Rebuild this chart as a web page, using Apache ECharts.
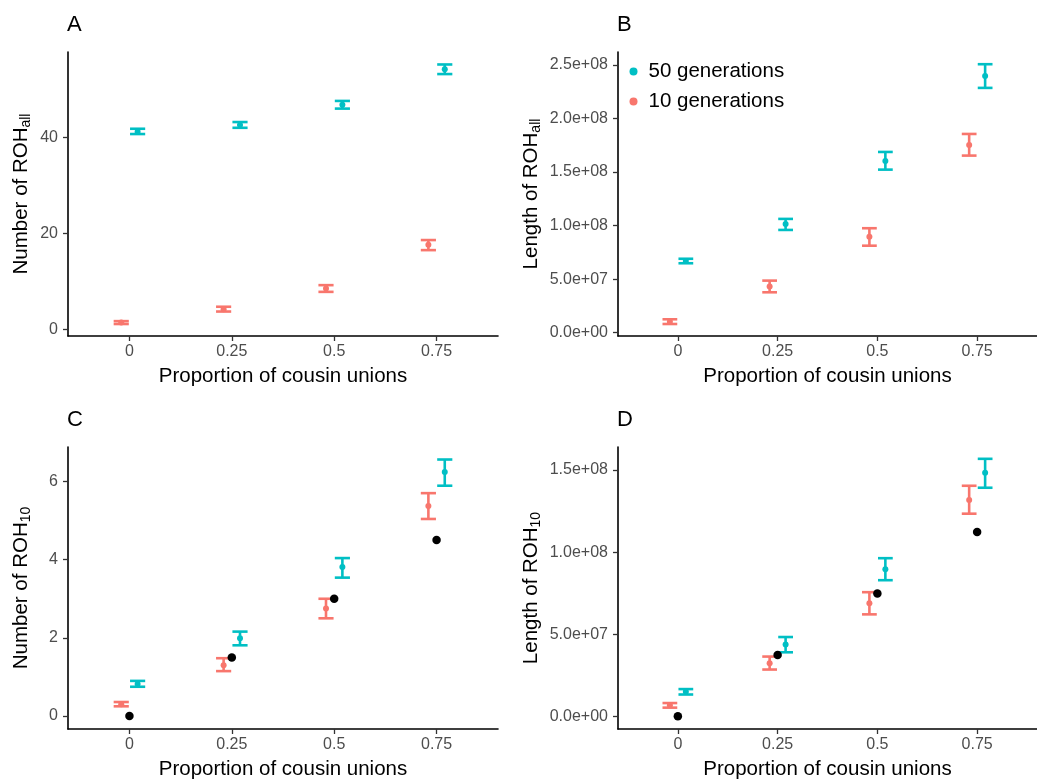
<!DOCTYPE html>
<html>
<head>
<meta charset="utf-8">
<script src="https://cdn.jsdelivr.net/npm/echarts@6/dist/echarts.min.js"></script>
<style>
html,body{margin:0;padding:0;background:#fff;}
#main{width:1037px;height:781px;}
</style>
</head>
<body>
<div id="main"></div>
<script>
// ---------- data ----------
const props = [0, 0.25, 0.5, 0.75];
const xTicks = [0, 0.25, 0.5, 0.75];
const xTickLabels = ['0', '0.25', '0.5', '0.75'];

// Panel A: number of ROH_all
const A10_mean = [1.4, 4.2, 8.5, 17.6];
const A10_lo   = [1.1, 3.7, 7.8, 16.5];
const A10_hi   = [1.7, 4.7, 9.2, 18.6];
const A50_mean = [41.2, 42.6, 46.8, 54.2];
const A50_lo   = [40.7, 42.0, 46.0, 53.2];
const A50_hi   = [41.8, 43.2, 47.6, 55.2];
const A_yTicks = [0, 20, 40];

// Panel B: length of ROH_all
const B10_mean = [1.03e7, 4.30e7, 8.96e7, 1.753e8];
const B10_lo   = [0.81e7, 3.77e7, 8.12e7, 1.653e8];
const B10_hi   = [1.25e7, 4.86e7, 9.75e7, 1.855e8];
const B50_mean = [6.69e7, 1.015e8, 1.603e8, 2.397e8];
const B50_lo   = [6.48e7, 0.959e8, 1.522e8, 2.285e8];
const B50_hi   = [6.90e7, 1.062e8, 1.687e8, 2.506e8];
const B_yTicks = [0, 5e7, 1e8, 1.5e8, 2e8, 2.5e8];

// Panel C: number of ROH_10
const C10_mean = [0.30, 1.30, 2.75, 5.37];
const C10_lo   = [0.25, 1.15, 2.50, 5.04];
const C10_hi   = [0.36, 1.48, 3.00, 5.70];
const C50_mean = [0.82, 1.99, 3.81, 6.24];
const C50_lo   = [0.75, 1.81, 3.54, 5.89];
const C50_hi   = [0.90, 2.16, 4.04, 6.56];
const C_obs    = [0, 1.5, 3.0, 4.5];
const C_yTicks = [0, 2, 4, 6];

// Panel D: length of ROH_10
const D10_mean = [6.7e6, 3.24e7, 6.88e7, 1.317e8];
const D10_lo   = [5.3e6, 2.85e7, 6.21e7, 1.234e8];
const D10_hi   = [8.1e6, 3.64e7, 7.56e7, 1.404e8];
const D50_mean = [1.50e7, 4.37e7, 8.96e7, 1.483e8];
const D50_lo   = [1.33e7, 3.90e7, 8.29e7, 1.392e8];
const D50_hi   = [1.66e7, 4.83e7, 9.63e7, 1.568e8];
const D_obs    = [0, 3.74e7, 7.48e7, 1.123e8];
const D_yTicks = [0, 5e7, 1e8, 1.5e8];

const seriesNames = ['10 generations', '50 generations'];
const obsName = 'observed';

// ---------- styling ----------
const RED = '#F8766D', CYAN = '#00BFC4';
const DODGE = 0.02;
const CAP = 0.037;
const FONT = '"Liberation Sans", Arial, Helvetica, sans-serif';

function sci(v) {
  if (v === 0) return '0.0e+00';
  const s = v.toExponential(1);
  const parts = s.split('e');
  const sign = parts[1][0];
  const d = parts[1].slice(1).padStart(2, '0');
  return parts[0] + 'e' + sign + d;
}

const grids = [
  {left: 68, top: 52, width: 430, height: 284},
  {left: 618, top: 52, width: 430, height: 284},
  {left: 68, top: 447, width: 430, height: 283},
  {left: 618, top: 447, width: 430, height: 283}
];

function xAxis(i) {
  return {
    type: 'value', gridIndex: i, min: -0.15, max: 0.9,
    name: 'Proportion of cousin unions', nameLocation: 'middle', nameGap: 30,
    nameTextStyle: {fontFamily: FONT, fontSize: 20.5, color: '#000'},
    axisLine: {show: true, onZero: false, lineStyle: {color: '#000', width: 1.6}},
    axisTick: {show: true, customValues: xTicks, length: 5, lineStyle: {color: '#333', width: 1.3}},
    axisLabel: {show: true, customValues: xTicks, margin: 8, fontFamily: FONT, fontSize: 16, color: '#4d4d4d',
      formatter: v => xTickLabels[xTicks.indexOf(v)] ?? String(v)},
    splitLine: {show: false}
  };
}

function yAxis(i, min, max, ticks, fmt, nameMain, nameSub, gap) {
  return {
    type: 'value', gridIndex: i, min: min, max: max,
    name: '{m|' + nameMain + '}{s|' + nameSub + '}', nameLocation: 'middle', nameGap: gap, nameRotate: 90,
    nameTextStyle: {fontFamily: FONT, color: '#000',
      rich: {
        m: {fontFamily: FONT, fontSize: 20.5, color: '#000', lineHeight: 24},
        s: {fontFamily: FONT, fontSize: 14, color: '#000', lineHeight: 14, padding: [10, 0, 0, 0]}
      }},
    axisLine: {show: true, onZero: false, lineStyle: {color: '#000', width: 1.6}},
    axisTick: {show: true, customValues: ticks, length: 5, lineStyle: {color: '#333', width: 1.3}},
    axisLabel: {show: true, customValues: ticks, margin: 10, fontFamily: FONT, fontSize: 16, color: '#4d4d4d', formatter: fmt},
    splitLine: {show: false}
  };
}

function errSeries(i, name, color, offset, lo, hi) {
  return {
    type: 'custom', name: name, xAxisIndex: i, yAxisIndex: i,
    data: props.map((p, k) => [p + offset, lo[k], hi[k]]),
    renderItem: function (params, api) {
      const x = api.value(0);
      const pLo = api.coord([x, api.value(1)]);
      const pHi = api.coord([x, api.value(2)]);
      const half = api.size([CAP, 0])[0] / 2;
      const st = {stroke: color, lineWidth: 2.6, fill: null};
      return {type: 'group', children: [
        {type: 'line', shape: {x1: pLo[0], y1: pLo[1], x2: pHi[0], y2: pHi[1]}, style: st},
        {type: 'line', shape: {x1: pLo[0] - half, y1: pLo[1], x2: pLo[0] + half, y2: pLo[1]}, style: st},
        {type: 'line', shape: {x1: pHi[0] - half, y1: pHi[1], x2: pHi[0] + half, y2: pHi[1]}, style: st}
      ]};
    },
    itemStyle: {color: color},
    z: 2, silent: true
  };
}

function ptSeries(i, name, color, offset, mean) {
  return {
    type: 'scatter', name: name, xAxisIndex: i, yAxisIndex: i,
    data: props.map((p, k) => [p + offset, mean[k]]),
    symbol: 'circle', symbolSize: 6, itemStyle: {color: color, opacity: 1},
    z: 3, silent: true
  };
}

function obsSeries(i, vals) {
  return {
    type: 'scatter', name: obsName, xAxisIndex: i, yAxisIndex: i,
    data: props.map((p, k) => [p, vals[k]]),
    symbol: 'circle', symbolSize: 8.5, itemStyle: {color: '#000', opacity: 1},
    z: 4, silent: true
  };
}

function panelSeries(i, m10, lo10, hi10, m50, lo50, hi50) {
  return [
    errSeries(i, seriesNames[0], RED, -DODGE, lo10, hi10),
    ptSeries(i, seriesNames[0], RED, -DODGE, m10),
    errSeries(i, seriesNames[1], CYAN, DODGE, lo50, hi50),
    ptSeries(i, seriesNames[1], CYAN, DODGE, m50)
  ];
}

const series = [].concat(
  panelSeries(0, A10_mean, A10_lo, A10_hi, A50_mean, A50_lo, A50_hi),
  panelSeries(1, B10_mean, B10_lo, B10_hi, B50_mean, B50_lo, B50_hi),
  panelSeries(2, C10_mean, C10_lo, C10_hi, C50_mean, C50_lo, C50_hi),
  [obsSeries(2, C_obs)],
  panelSeries(3, D10_mean, D10_lo, D10_hi, D50_mean, D50_lo, D50_hi),
  [obsSeries(3, D_obs)]
);

const titleStyle = {fontFamily: FONT, fontSize: 22, fontWeight: 'normal', color: '#000'};

const option = {
  backgroundColor: '#fff',
  animation: false,
  title: [
    {text: 'A', left: 67, top: 14, textStyle: titleStyle, padding: 0},
    {text: 'B', left: 617, top: 14, textStyle: titleStyle, padding: 0},
    {text: 'C', left: 67, top: 409, textStyle: titleStyle, padding: 0},
    {text: 'D', left: 617, top: 409, textStyle: titleStyle, padding: 0}
  ],
  legend: {
    data: [seriesNames[1], seriesNames[0]],
    orient: 'vertical', left: 629.5, top: 61, itemGap: 9, padding: 0,
    icon: 'circle', itemWidth: 8, itemHeight: 8,
    textStyle: {fontFamily: FONT, fontSize: 20.5, color: '#000', padding: [0, 0, 0, 6]},
    selectedMode: false
  },
  grid: grids,
  xAxis: [xAxis(0), xAxis(1), xAxis(2), xAxis(3)],
  yAxis: [
    yAxis(0, -1.4, 57.8, A_yTicks, v => String(v), 'Number of ROH', 'all', 35),
    yAxis(1, -3.1e6, 2.62e8, B_yTicks, sci, 'Length of ROH', 'all', 75),
    yAxis(2, -0.33, 6.88, C_yTicks, v => String(v), 'Number of ROH', '10', 35),
    yAxis(3, -7.7e6, 1.64e8, D_yTicks, sci, 'Length of ROH', '10', 75)
  ],
  series: series
};

const chart = echarts.init(document.getElementById('main'), null, {renderer: 'canvas'});
chart.setOption(option);
</script>
</body>
</html>
